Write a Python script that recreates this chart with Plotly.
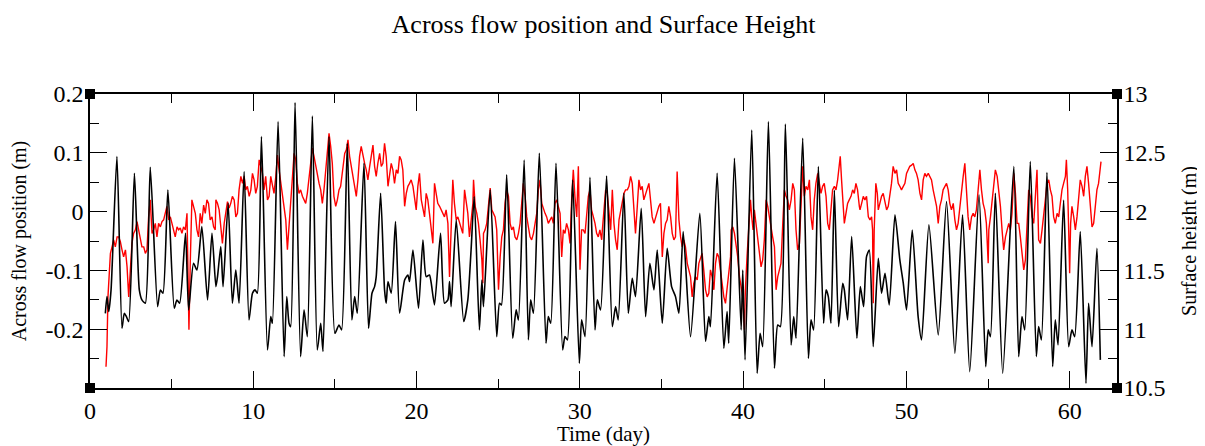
import plotly.graph_objects as go

# ---------------- data ----------------
# Across flow position (m), red, left axis
red_t = [
    0.98, 1.04, 1.10, 1.17, 1.25, 1.35, 1.45, 1.55, 1.66, 1.76, 1.86, 1.96, 2.06, 2.17, 2.27, 2.37, 2.47, 2.57, 2.67, 2.78,
    2.88, 2.98, 3.08, 3.18, 3.29, 3.39, 3.49, 3.59, 3.69, 3.80, 3.90, 4.00, 4.10, 4.20, 4.31, 4.41, 4.51, 4.61, 4.71, 4.82,
    4.92, 5.02, 5.12, 5.22, 5.33, 5.43, 5.53, 5.63, 5.73, 5.84, 5.94, 6.00, 6.06, 6.14, 6.24, 6.34, 6.45, 6.55, 6.65, 6.75,
    6.85, 6.96, 7.06, 7.16, 7.26, 7.36, 7.47, 7.57, 7.67,
    7.71, 7.81, 7.91, 8.01, 8.11, 8.22, 8.32, 8.42, 8.52, 8.62, 8.72, 8.83, 8.93, 9.03, 9.13, 9.24, 9.34, 9.44, 9.54, 9.64,
    9.75, 9.85, 9.95, 10.05, 10.15, 10.25, 10.36, 10.46, 10.56, 10.66, 10.76, 10.87, 10.97, 11.07, 11.17, 11.27, 11.38, 11.48,
    11.58, 11.68, 11.78, 11.89, 11.99, 12.09, 12.19, 12.29, 12.40, 12.50, 12.60, 12.70, 12.80, 12.90, 13.01, 13.11, 13.21,
    13.31, 13.41, 13.52, 13.62, 13.72, 13.82, 13.92, 14.03, 14.13, 14.23, 14.33, 14.43, 14.54, 14.64, 14.74, 14.84, 14.94,
    15.05, 15.15, 15.25, 15.35, 15.45, 15.56,
    15.60, 15.70, 15.80, 15.90, 16.00, 16.11, 16.21, 16.31, 16.41, 16.51, 16.61, 16.72, 16.82, 16.92, 17.02, 17.13, 17.23,
    17.33, 17.43, 17.53, 17.63, 17.74, 17.84, 17.94, 18.04, 18.14, 18.25, 18.35, 18.45, 18.55, 18.65, 18.76, 18.86, 18.96,
    19.06, 19.16, 19.27, 19.37, 19.47, 19.57, 19.67, 19.78, 19.88, 19.98, 20.08, 20.18, 20.29, 20.39, 20.49, 20.59, 20.69,
    20.79, 20.90, 21.00, 21.10, 21.20, 21.30, 21.41, 21.51, 21.61, 21.71, 21.81, 21.92, 22.02, 22.12, 22.22, 22.32, 22.43,
    22.53, 22.63, 22.73, 22.83, 22.94, 23.04, 23.14, 23.24, 23.34, 23.45,
    23.49, 23.59, 23.69, 23.79, 23.89, 24.00, 24.06, 24.10, 24.20, 24.30, 24.40, 24.51, 24.61, 24.71, 24.81, 24.91, 25.02,
    25.12, 25.22, 25.32, 25.42, 25.52, 25.63, 25.73, 25.83, 25.93, 26.03, 26.14, 26.24, 26.34, 26.44, 26.54, 26.65, 26.75,
    26.85, 26.95, 27.05, 27.16, 27.26, 27.36, 27.46, 27.56, 27.67, 27.77, 27.87, 27.97, 28.07, 28.18, 28.28, 28.38, 28.48,
    28.58, 28.69, 28.79, 28.89, 28.99, 29.09, 29.19, 29.30, 29.40, 29.50, 29.60, 29.70, 29.81, 29.91, 30.01, 30.11, 30.21,
    30.32, 30.42, 30.52, 30.62, 30.72, 30.83, 30.93, 31.03, 31.13, 31.23, 31.34,
    31.38, 31.48, 31.58, 31.68, 31.78, 31.89, 31.99, 32.09, 32.19, 32.29, 32.40, 32.50, 32.60, 32.70, 32.80, 32.91, 33.01,
    33.11, 33.21, 33.31, 33.41, 33.52, 33.62, 33.72, 33.82, 33.92, 34.03, 34.13, 34.23, 34.33, 34.43, 34.54, 34.64, 34.74,
    34.84, 34.94, 35.05, 35.15, 35.25, 35.35, 35.45, 35.56, 35.66, 35.76, 35.86, 35.96, 36.07, 36.17, 36.27, 36.37, 36.47,
    36.58, 36.68, 36.78, 36.88, 36.98, 37.08, 37.19, 37.29, 37.39, 37.49, 37.59, 37.70, 37.80, 37.90, 38.00, 38.10, 38.21,
    38.31, 38.41, 38.51, 38.61, 38.72, 38.82, 38.92, 39.02, 39.12, 39.23,
    39.27, 39.37, 39.47, 39.57, 39.67, 39.78, 39.88, 39.98, 40.08, 40.14, 40.24, 40.33, 40.45, 40.53, 40.61,
    40.69, 40.79, 40.90, 41.00, 41.10, 41.20, 41.30, 41.41, 41.51, 41.61, 41.71, 41.81, 41.92, 42.02, 42.12, 42.22, 42.32,
    42.43, 42.53, 42.63, 42.73, 42.83, 42.94, 43.04, 43.14, 43.24, 43.34, 43.45, 43.55, 43.65, 43.75, 43.85, 43.96, 44.06,
    44.16, 44.26, 44.36, 44.46, 44.57, 44.67, 44.77, 44.87, 44.97, 45.08, 45.18, 45.28, 45.38, 45.48, 45.59, 45.69, 45.79,
    45.89, 45.95, 46.03, 46.12, 46.20, 46.30, 46.40, 46.50, 46.61, 46.71, 46.81, 46.91, 47.01, 47.12,
    47.16, 47.26, 47.36, 47.46, 47.56, 47.67, 47.77, 47.87, 47.93, 47.97, 48.03, 48.13, 48.22,
    48.28, 48.38, 48.48, 48.58, 48.69, 48.79, 48.89, 48.99, 49.09, 49.19, 49.30, 49.40, 49.50, 49.60, 49.70, 49.81, 49.91,
    50.01, 50.11, 50.21, 50.32, 50.42, 50.52, 50.62, 50.72, 50.83, 50.93, 51.03, 51.13, 51.23, 51.34, 51.44, 51.54, 51.64,
    51.74, 51.85, 51.95, 52.05, 52.15, 52.25, 52.36, 52.46, 52.56, 52.66, 52.76, 52.87, 52.97, 53.07, 53.17, 53.27, 53.37,
    53.48, 53.58, 53.68, 53.78, 53.88, 53.99, 54.09, 54.19, 54.29, 54.39, 54.50, 54.60, 54.70, 54.80, 54.90, 55.01,
    55.05, 55.15, 55.25, 55.35, 55.45, 55.56, 55.66, 55.76, 55.86, 55.96, 56.07, 56.17, 56.27, 56.37, 56.47, 56.58, 56.68,
    56.78, 56.88, 56.98, 57.08, 57.19, 57.29, 57.39, 57.49, 57.59, 57.70, 57.80, 57.90, 58.00, 58.10, 58.21, 58.31, 58.41,
    58.51, 58.61, 58.72, 58.82, 58.92, 59.02, 59.12, 59.23, 59.33, 59.43, 59.53, 59.63, 59.74, 59.80, 59.88, 59.94, 60.00,
    60.06, 60.14, 60.25, 60.35, 60.45, 60.55, 60.65, 60.76, 60.86, 60.96, 61.06, 61.16, 61.26, 61.37, 61.47, 61.57, 61.67,
    61.77, 61.88, 61.92,
]
red_v = [
    -0.264, -0.230, -0.145, -0.111, -0.071, -0.060, -0.048, -0.060, -0.043, -0.043, -0.051, -0.065, -0.077, -0.065, -0.094,
    -0.145, -0.105, -0.054, -0.037, -0.031, -0.017, -0.031, -0.048, -0.060, -0.060, -0.071, -0.065, -0.009, 0.020, -0.037,
    -0.031, -0.020, -0.043, -0.020, -0.026, -0.017, -0.014, -0.003, 0.009, -0.014, -0.009, -0.020, -0.031, -0.043, -0.026,
    -0.031, -0.028, -0.037, -0.026, -0.031, -0.003, -0.111, -0.201, -0.088, 0.020, 0.009, -0.003, -0.031, -0.043, -0.003,
    -0.020, 0.011, -0.003, 0.020, 0.014, -0.014, -0.009, -0.026, -0.031,
    0.020, 0.014, 0.003, -0.031, -0.054, -0.020, 0.003, 0.017, 0.006, 0.014, 0.026, 0.020, -0.009, -0.003, 0.037, 0.060,
    0.048, 0.060, 0.037, 0.043, 0.026, 0.037, 0.065, 0.054, 0.031, 0.043, 0.088, 0.077, 0.065, 0.037, 0.060, 0.020, 0.026,
    0.060, 0.048, 0.031, 0.060, 0.096, 0.071, 0.048, 0.026, 0.009, -0.014, -0.065, -0.020, 0.020, 0.065, 0.099, 0.088,
    0.048, 0.031, 0.037, 0.026, 0.020, 0.014, 0.031, 0.060, 0.088, 0.108, 0.094, 0.077, 0.060, 0.048, 0.037, 0.014, 0.037,
    0.065, 0.105, 0.133, 0.111, 0.082, 0.026, 0.009, 0.020, 0.037, 0.043, 0.065, 0.094,
    0.099, 0.105, 0.122, 0.094, 0.077, 0.054, 0.037, 0.026, 0.054, 0.094, 0.111, 0.094, 0.082, 0.071, 0.054, 0.077, 0.099,
    0.113, 0.077, 0.060, 0.082, 0.099, 0.077, 0.082, 0.116, 0.094, 0.043, 0.060, 0.082, 0.071, 0.048, 0.071, 0.065, 0.094,
    0.088, 0.071, 0.009, 0.031, 0.043, 0.048, 0.054, 0.043, 0.020, 0.003, 0.043, 0.065, 0.020, 0.003, -0.009, 0.031, 0.020,
    -0.003, -0.031, -0.054, 0.048, 0.026, 0.014, 0.009, 0.003, -0.003, -0.009, 0.003, -0.020, -0.111, -0.020, 0.054, 0.014,
    -0.014, -0.009, -0.020, -0.031, -0.037, 0.037, 0.020, -0.003, -0.043, -0.020, 0.014,
    0.054, 0.009, -0.003, -0.020, -0.048, -0.082, -0.122, -0.037, -0.031, -0.020, 0.009, 0.040, 0.003, -0.003, -0.009,
    -0.031, -0.133, -0.077, -0.043, -0.031, 0.014, 0.037, 0.026, -0.020, -0.031, -0.026, -0.043, -0.048, -0.037, -0.020,
    0.020, 0.048, 0.026, -0.009, -0.026, -0.043, -0.048, -0.037, -0.020, -0.003, 0.037, 0.054, 0.014, 0.003, -0.003,
    -0.009, -0.020, -0.014, -0.009, -0.020, 0.014, 0.020, 0.009, -0.003, -0.077, -0.031, -0.037, -0.020, -0.031, -0.054,
    0.020, 0.071, 0.026, -0.009, 0.077, -0.099, -0.031, -0.031, -0.037, -0.009, 0.026, 0.037, 0.003, -0.009, -0.020,
    -0.037, -0.043, -0.031, -0.048,
    -0.031, 0.003, 0.037, 0.031, 0.003, -0.031, 0.037, -0.020, -0.048, -0.065, -0.014, 0.003, 0.020, 0.031, 0.037, 0.037,
    0.043, 0.060, 0.048, -0.003, -0.037, 0.009, 0.054, 0.037, 0.043, 0.020, 0.031, 0.037, 0.048, 0.020, -0.009, -0.020,
    -0.009, 0.003, 0.009, 0.014, -0.077, -0.037, -0.020, -0.014, 0.009, -0.009, -0.037, -0.048, -0.043, 0.068, -0.014,
    -0.043, -0.060, -0.048, -0.060, -0.088, -0.099, -0.111, -0.145, -0.122, -0.111, -0.116, -0.088, -0.077, -0.071, -0.099,
    -0.133, -0.145, -0.139, -0.099, -0.111, -0.133, -0.088, -0.071, -0.077, -0.099, -0.122, -0.145, -0.156, -0.133, -0.105,
    -0.077,
    -0.031, -0.026, -0.037, -0.054, -0.077, -0.111, -0.133, -0.145, -0.201, -0.133, -0.077, -0.037, 0.020, -0.009, -0.031,
    0.003, -0.020, -0.054, -0.077, -0.094, -0.082, -0.048, 0.020, 0.009, -0.009, -0.031, -0.043, -0.060, -0.133, -0.111,
    -0.099, -0.088, -0.020, 0.037, 0.026, 0.020, 0.003, 0.020, 0.048, 0.037, -0.031, -0.065, -0.054, 0.020, 0.077, 0.026,
    0.043, 0.037, 0.054, -0.009, -0.031, 0.020, 0.048, 0.065, 0.043, 0.031, 0.043, 0.048, 0.026, -0.020, -0.031, -0.003,
    0.037, 0.043, 0.037, 0.054, 0.082, 0.094, 0.054, 0.020, -0.020, -0.003, 0.014, 0.020, 0.026, 0.037, 0.031, 0.048,
    0.037, 0.009,
    0.003, 0.014, 0.026, 0.020, 0.026, -0.009, -0.014, -0.009, -0.031, -0.156, -0.031, 0.048, 0.031,
    0.003, 0.014, 0.026, 0.031, 0.014, 0.003, 0.009, 0.026, 0.048, 0.077, 0.065, 0.071, 0.048, 0.043, 0.037, 0.043, 0.048,
    0.065, 0.071, 0.077, 0.079, 0.082, 0.071, 0.065, 0.054, 0.031, 0.020, 0.054, 0.065, 0.060, 0.065, 0.060, 0.054, 0.037,
    0.020, 0.009, -0.020, 0.009, 0.020, 0.037, 0.043, 0.048, 0.037, 0.014, 0.003, 0.014, -0.014, -0.031, -0.020, 0.009,
    0.037, 0.060, 0.082, 0.037, -0.009, -0.031, -0.009, -0.003, -0.009, 0.003, 0.037, 0.071, 0.037, 0.014, 0.003, -0.020,
    -0.088,
    -0.031, -0.009, 0.020, 0.048, 0.071, 0.060, 0.037, 0.009, -0.031, -0.065, -0.043, -0.031, -0.020, -0.031, -0.003, 0.065,
    0.031, -0.020, -0.020, -0.043, -0.077, -0.099, -0.082, -0.020, 0.037, 0.026, -0.009, -0.020, 0.037, 0.071, -0.048,
    -0.054, -0.031, -0.009, 0.020, 0.048, 0.054, 0.037, 0.026, -0.009, -0.020, -0.003, -0.009, 0.014, 0.037, 0.048, 0.060,
    0.088, 0.037, -0.031, -0.105, -0.020, 0.009, -0.009, -0.031, -0.009, 0.026, 0.054, 0.043, 0.026, 0.060, 0.077, 0.048,
    0.003, -0.026, -0.020, 0.009, 0.037, 0.048, 0.077, 0.085,
]

# Surface height (m), black, right axis
height_t = [
    0.94, 1.04, 1.15, 1.29, 1.65, 1.96, 2.10, 2.23, 2.37, 2.72, 3.02, 3.18, 3.39, 3.69, 4.14, 4.31, 4.47, 4.77, 5.16, 5.32,
    5.49, 5.85, 6.04, 6.34, 6.55, 6.85, 7.20, 7.47, 7.71, 7.81, 8.01, 8.15, 8.46, 8.72, 8.93, 9.13, 9.44, 9.74, 9.95, 10.11,
    10.25, 10.50, 10.87, 11.07, 11.17, 11.52, 11.89, 12.05, 12.19, 12.29, 12.56, 12.90, 13.11, 13.31, 13.62, 13.92, 14.13,
    14.27, 14.64, 15.00, 15.25, 15.41, 15.76, 16.04, 16.21, 16.37, 16.78, 17.06, 17.27, 17.43, 17.53, 17.80, 18.04, 18.14,
    18.25, 18.45, 18.71, 18.96, 19.27, 19.47, 19.57, 19.78, 20.12, 20.39, 20.59, 20.79, 20.90, 21.10, 21.47, 21.71, 21.92,
    22.02, 22.12, 22.43, 22.89, 23.14, 23.34, 23.53, 23.85, 24.00, 24.10, 24.51, 24.91, 25.08, 25.20, 25.52, 25.89, 26.10,
    26.24, 26.59, 26.85, 26.99, 27.16, 27.52, 27.93, 28.07, 28.22, 28.54, 28.95, 29.09, 29.24, 29.56, 29.97, 30.11, 30.32,
    30.62, 30.93, 31.07, 31.27, 31.64, 31.99, 32.19, 32.35, 32.70, 32.97, 33.21, 33.41, 33.76, 34.03, 34.29, 34.54, 34.74,
    35.05, 35.35, 35.62, 35.86, 36.07, 36.33, 36.78, 37.35, 37.70, 37.90, 38.00, 38.41, 38.82, 39.02, 39.12, 39.47, 39.88,
    39.98, 40.12, 40.53, 40.86, 41.04, 41.20, 41.55, 41.92, 42.12, 42.28, 42.59, 42.94, 43.10, 43.24, 43.65, 44.00, 44.16,
    44.32, 44.61, 44.93, 45.08, 45.22, 45.38, 45.59, 45.85, 46.10, 46.20, 46.40, 46.65, 46.97, 47.18, 47.38, 47.56, 47.73,
    47.97, 48.28, 48.48, 48.69, 48.95, 49.30, 49.60, 49.81, 50.01, 50.36, 50.72, 50.93, 51.38, 51.95, 52.46, 52.97, 53.44,
    53.88, 54.45, 54.86, 55.01, 55.15, 55.45, 55.90, 56.58, 56.88, 57.08, 57.25, 57.59, 57.96, 58.10, 58.27, 58.61, 58.96,
    59.12, 59.29, 59.63, 59.94, 60.14, 60.31, 60.65, 61.00, 61.16, 61.37, 61.67, 61.88,
]
height_m = [
    11.135, 11.277, 11.150, 11.334, 12.468, 11.008, 11.135, 11.107, 11.065, 12.326, 11.334, 11.249, 11.221, 12.377, 11.192,
    11.334, 11.306, 12.184, 11.178, 11.249, 11.221, 11.816, 11.164, 11.561, 11.504, 11.872, 11.249, 11.816, 11.362, 11.447,
    11.702, 11.362, 12.071, 11.221, 11.504, 11.221, 12.340, 11.079, 11.306, 11.334, 11.306, 12.638, 10.824, 11.107, 11.050,
    12.765, 10.767, 11.277, 11.050, 11.022, 12.927, 10.767, 11.164, 10.937, 12.813, 10.824, 11.050, 10.810, 12.638, 10.965,
    11.036, 10.994, 12.581, 11.079, 11.277, 11.135, 12.411, 11.008, 11.306, 11.362, 11.447, 12.156, 11.334, 11.221, 11.405,
    11.306, 11.915, 11.135, 11.419, 11.461, 11.405, 11.674, 11.178, 11.759, 11.447, 11.461, 11.391, 11.206, 11.816, 11.221,
    11.249, 11.405, 11.192, 11.929, 11.065, 11.249, 11.674, 12.128, 10.994, 11.419, 11.192, 12.184, 10.937, 11.221, 11.206,
    12.312, 10.923, 11.164, 11.079, 12.439, 10.909, 11.249, 11.135, 12.496, 10.880, 11.107, 11.050, 12.411, 10.824, 10.937,
    10.909, 12.269, 10.710, 11.079, 10.937, 12.292, 10.994, 11.249, 11.164, 12.303, 11.022, 11.192, 11.079, 12.156, 11.135,
    11.433, 11.277, 12.028, 11.107, 11.561, 11.334, 11.674, 11.050, 11.688, 11.362, 11.277, 11.135, 11.830, 10.937, 11.986,
    10.895, 11.107, 11.022, 12.326, 10.838, 11.150, 10.880, 12.454, 10.994, 11.504, 10.739, 12.694, 10.625, 10.965, 10.852,
    12.765, 10.668, 11.036, 11.022, 12.745, 10.866, 11.107, 10.923, 12.624, 10.753, 11.079, 10.994, 12.383, 11.050, 11.334,
    11.277, 11.050, 12.184, 11.022, 11.391, 11.334, 11.079, 11.787, 10.923, 11.362, 11.192, 11.617, 11.674, 10.852, 11.603,
    11.306, 11.476, 11.206, 11.972, 11.589, 11.391, 11.164, 11.844, 11.107, 10.909, 11.887, 10.951, 12.085, 10.795, 11.972,
    10.639, 12.142, 10.682, 10.994, 10.937, 12.156, 10.625, 12.383, 10.767, 11.107, 10.994, 12.425, 10.767, 11.022, 10.909,
    12.332, 10.682, 11.079, 10.866, 12.099, 10.852, 10.994, 10.937, 11.830, 10.540, 11.221, 10.852, 11.688, 10.739,
]

x_ticks = [0, 10, 20, 30, 40, 50, 60]
x_minor = [5, 15, 25, 35, 45, 55]
left_ticks = [-0.2, -0.1, 0, 0.1, 0.2]
left_labels = ["-0.2", "-0.1", "0", "0.1", "0.2"]
left_minor = [-0.25, -0.15, -0.05, 0.05, 0.15]
right_ticks = [10.5, 11, 11.5, 12, 12.5, 13]
right_labels = ["10.5", "11", "11.5", "12", "12.5", "13"]
right_minor = [10.75, 11.25, 11.75, 12.25, 12.75]

title_text = "Across flow position and Surface Height"
x_title = "Time (day)"
left_title = "Across flow position (m)"
right_title = "Surface height (m)"

# ---------------- figure ----------------
# The page body adds an 8 px margin, so the figure is made 8 px smaller
# and its margins are shifted to keep the plot frame where the reference has it.
FONT = "Liberation Serif, Times New Roman, serif"
n_r = min(len(red_t), len(red_v))
n_b = min(len(height_t), len(height_m))

fig = go.Figure()
fig.add_trace(go.Scatter(
    x=red_t[:n_r], y=red_v[:n_r], mode="lines", yaxis="y",
    line=dict(color="#ff0000", width=1.4), showlegend=False, hoverinfo="skip"))
fig.add_trace(go.Scatter(
    x=height_t[:n_b], y=height_m[:n_b], mode="lines", yaxis="y2",
    line=dict(color="#000000", width=1.6, shape="spline", smoothing=0.6),
    showlegend=False, hoverinfo="skip"))

axis_common = dict(
    ticks="inside", ticklen=17, tickwidth=1.3, tickcolor="black",
    showline=True, linecolor="black", linewidth=1.5,
    showgrid=False, zeroline=False, automargin=False,
    tickfont=dict(family=FONT, size=24, color="black"),
)

fig.update_layout(
    width=1197, height=438,
    margin=dict(l=82, r=88, t=86, b=58, autoexpand=False),
    paper_bgcolor="white", plot_bgcolor="white",
    title=dict(text=title_text, x=0.5, xref="paper", xanchor="center",
               y=0.963, yref="container", yanchor="middle",
               font=dict(family=FONT, size=26, color="black")),
    xaxis=dict(
        range=[0, 62.9], tickmode="array", tickvals=x_ticks, mirror="ticks",
        minor=dict(tickvals=x_minor, ticks="inside", ticklen=9, tickwidth=1.3, tickcolor="black"),
        title=dict(text=x_title, font=dict(family=FONT, size=21, color="black"), standoff=8),
        **axis_common),
    yaxis=dict(
        range=[-0.3, 0.2], tickmode="array", tickvals=left_ticks, ticktext=left_labels,
        minor=dict(tickvals=left_minor, ticks="inside", ticklen=9, tickwidth=1.3, tickcolor="black"),
        title=dict(text=left_title, font=dict(family=FONT, size=20, color="black"), standoff=14),
        **axis_common),
    yaxis2=dict(
        range=[10.5, 13], overlaying="y", side="right", anchor="x",
        tickmode="array", tickvals=right_ticks, ticktext=right_labels,
        minor=dict(tickvals=right_minor, ticks="inside", ticklen=9, tickwidth=1.3, tickcolor="black"),
        title=dict(text=right_title, font=dict(family=FONT, size=20, color="black"), standoff=17),
        **axis_common),
)

# small filled squares at the four frame corners
for xa in (0, 1):
    for ya in (0, 1):
        fig.add_shape(type="rect", xref="x domain", yref="y domain",
                      xsizemode="pixel", ysizemode="pixel", xanchor=xa, yanchor=ya,
                      x0=-5, x1=5, y0=-5, y1=5,
                      fillcolor="black", line=dict(width=0), layer="above")

fig.write_html("out.html")
